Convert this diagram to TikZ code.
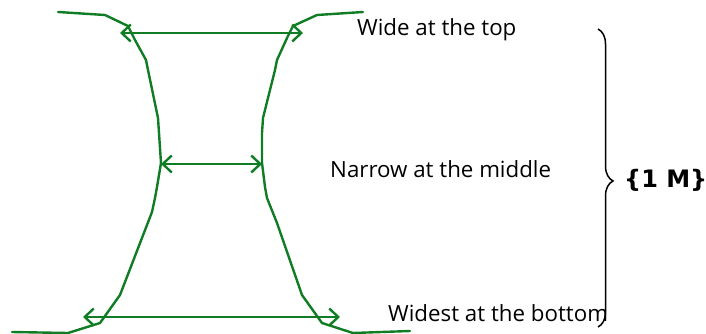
\documentclass[tikz,border=0pt]{standalone}
\usepackage{fontspec}
\setmainfont{Open Sans}
\newfontfamily\dejav{DejaVu Sans}
\usetikzlibrary{arrows.meta,decorations.pathreplacing}
\definecolor{wallgreen}{RGB}{16,124,36}
\tikzset{
  wall/.style={draw=wallgreen, line width=2.4pt, line join=round, line cap=round},
  measure/.style={draw=wallgreen, line width=2.4pt,
    {Straight Barb[length=9pt,width=17pt,line width=2.4pt]}-{Straight Barb[length=9pt,width=17pt,line width=2.4pt]}},
  lbl/.style={anchor=base west, inner sep=0pt, font=\fontsize{22.3}{26}\selectfont, text=black},
  bracestyle/.style={draw=black, line width=1.5pt, decorate, decoration={brace, amplitude=15pt, aspect=0.51}}
}
\begin{document}
\begin{tikzpicture}[x=1pt,y=-1pt]
\useasboundingbox (0,0) rectangle (706,334);
% walls
\draw[wall] (58,12) -- (105,15) -- (128,26) -- (135,40) -- (146,60) -- (148,70) -- (158,118) -- (159,133) -- (161,163) -- (157,187) -- (155,198) -- (152,212) -- (120,295) -- (100,323) -- (68,333) -- (12,332);
\draw[wall] (363,12) -- (317,15) -- (293,26) -- (287,38) -- (277,60) -- (275,70) -- (263,118) -- (262,133) -- (262,163) -- (265,187) -- (267,198) -- (277,223) -- (302,295) -- (322,323) -- (353,333) -- (410,331);
% arrow end points
\coordinate (topL) at (120,33);
\coordinate (topR) at (303,33);
\coordinate (midL) at (161,164);
\coordinate (midR) at (262,164);
\coordinate (botL) at (83,317);
\coordinate (botR) at (340,317);
\draw[measure] (topL) -- (topR);
\draw[measure] (midL) -- (midR);
\draw[measure] (botL) -- (botR);
% labels
\node[lbl] (wide) at (357,36) {Wide at the top};
\node[lbl] (narrow) at (330,177) {Narrow at the middle};
\node[lbl] (widest) at (388,321) {Widest at the bottom};
% brace
\coordinate (bt) at (598,29);
\coordinate (bb) at (598,327);
\draw[bracestyle] (bt) -- (bb);
\node[anchor=west, inner sep=0pt, font=\dejav\bfseries\fontsize{24}{28}\selectfont] (onem) at (624,180) {\{1 M\}};
\end{tikzpicture}
\end{document}
